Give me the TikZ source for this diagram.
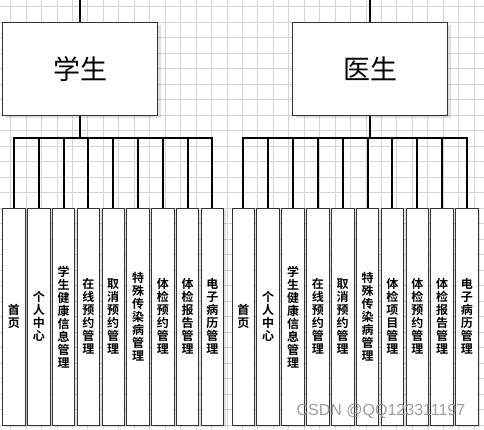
\documentclass[tikz,border=0pt]{standalone}
\usepackage{fontspec}
\newfontfamily\cjk{Noto Sans CJK SC}
\newfontfamily\cjkb{Noto Sans CJK SC Bold}
\newfontfamily\wmfont{Liberation Sans}
\usetikzlibrary{shadows}
\tikzset{
  gridline/.style={draw=black!17, line width=0.6pt},
  bigbox/.style={draw=black!80, fill=white, line width=0.9pt, minimum width=155pt, minimum height=93pt, inner sep=0pt,
    font=\cjk\fontsize{27}{27}\selectfont,
    drop shadow={shadow xshift=3pt, shadow yshift=-3pt, opacity=0.12, fill=black}},
  leaf/.style={draw=black!80, fill=white, line width=0.9pt, minimum width=22.5pt, minimum height=216.7pt, inner sep=0pt,
    align=center, font=\cjkb\fontsize{12}{13}\selectfont,
    drop shadow={shadow xshift=2pt, shadow yshift=-2pt, opacity=0.12, fill=black}},
  conn/.style={line width=2pt, draw=black},
  wm/.style={font=\wmfont\fontsize{16}{16}\selectfont, text=black!45, opacity=0.85}
}
\begin{document}
\begin{tikzpicture}[x=1pt,y=-1pt]
\useasboundingbox (0,0) rectangle (484,429);
\fill[white] (0,0) rectangle (484,429);
% grid
\foreach \k in {0,...,30} {\draw[gridline] ({10.5+15.45*\k},0) -- ({10.5+15.45*\k},429);}
\foreach \k in {0,...,27} {\draw[gridline] (0,{6.7+15.5*\k}) -- (484,{6.7+15.5*\k});}

% student tree
\node[bigbox] (s) at (80.2,68.8) {学生};
\coordinate (stop) at (80.2,0);
\draw[conn] (stop) -- (s.north);
\foreach \i/\t in {1/{首\\页},2/{个\\人\\中\\心},3/{学\\生\\健\\康\\信\\息\\管\\理},4/{在\\线\\预\\约\\管\\理},5/{取\\消\\预\\约\\管\\理},6/{特\\殊\\传\\染\\病\\管\\理},7/{体\\检\\预\\约\\管\\理},8/{体\\检\\报\\告\\管\\理},9/{电\\子\\病\\历\\管\\理}} {
  \node[leaf] (s\i) at ({14+24.8*(\i-1)},316.7) {\t};
  \draw[conn] (s.south) -- ++(0,22.7) -| (s\i.north);
}

% doctor tree
\node[bigbox] (d) at (370,68.8) {医生};
\coordinate (dtop) at (370,0);
\draw[conn] (dtop) -- (d.north);
\foreach \i/\t in {1/{首\\页},2/{个\\人\\中\\心},3/{学\\生\\健\\康\\信\\息\\管\\理},4/{在\\线\\预\\约\\管\\理},5/{取\\消\\预\\约\\管\\理},6/{特\\殊\\传\\染\\病\\管\\理},7/{体\\检\\项\\目\\管\\理},8/{体\\检\\预\\约\\管\\理},9/{体\\检\\报\\告\\管\\理},10/{电\\子\\病\\历\\管\\理}} {
  \node[leaf] (d\i) at ({243.3+24.85*(\i-1)},316.7) {\t};
  \draw[conn] (d.south) -- ++(0,22.7) -| (d\i.north);
}

\node[wm] (wmark) at (381,411) {CSDN @QQ123311197};
\end{tikzpicture}
\end{document}
